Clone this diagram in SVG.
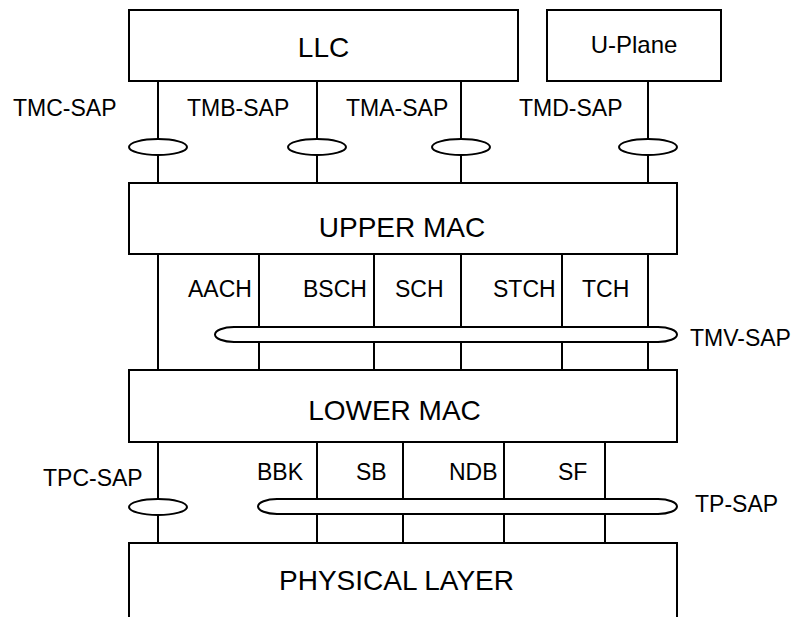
<svg xmlns="http://www.w3.org/2000/svg" width="796" height="617" viewBox="0 0 796 617">
<style>
.box{fill:#fff;stroke:#000;stroke-width:2}
.ln{stroke:#000;stroke-width:2;fill:none}
.sap{fill:#fff;stroke:#000;stroke-width:2}
.big{font-family:"Liberation Sans",Arial,sans-serif;font-size:28px;fill:#000}
.mid{font-family:"Liberation Sans",Arial,sans-serif;font-size:24px;fill:#000}
.sm{font-family:"Liberation Sans",Arial,sans-serif;font-size:23px;fill:#000}
</style>
<rect width="796" height="617" fill="#fff"/>
<g id="connectors">
<path class="ln" d="M158 81V183M317 81V183M461 81V183M648 81V183"/>
<path class="ln" d="M158 254V370M259 254V370M374 254V370M461 254V370M562 254V370M648 254V370"/>
<path class="ln" d="M158 442V543M317 442V543M403 442V543M504 442V543M605 442V543"/>
</g>
<g id="llc"><rect class="box" x="129" y="10" width="389" height="71"/><text class="big" x="323.5" y="57" text-anchor="middle">LLC</text></g>
<g id="uplane"><rect class="box" x="547" y="10" width="174" height="71"/><text class="mid" x="634" y="53" text-anchor="middle">U-Plane</text></g>
<g id="upper-mac"><rect class="box" x="129" y="183" width="548" height="71"/><text class="big" x="402" y="237" text-anchor="middle">UPPER MAC</text></g>
<g id="lower-mac"><rect class="box" x="129" y="370" width="548" height="72"/><text class="big" x="394.5" y="420" text-anchor="middle">LOWER MAC</text></g>
<g id="physical-layer"><rect class="box" x="129" y="543" width="548" height="90"/><text class="big" x="396.5" y="590" text-anchor="middle">PHYSICAL LAYER</text></g>
<g id="tmc-sap"><ellipse class="sap" cx="158" cy="147" rx="29" ry="8"/><text class="sm" x="13" y="116">TMC-SAP</text></g>
<g id="tmb-sap"><ellipse class="sap" cx="317" cy="147" rx="29" ry="8"/><text class="sm" x="187" y="116">TMB-SAP</text></g>
<g id="tma-sap"><ellipse class="sap" cx="461" cy="147" rx="29" ry="8"/><text class="sm" x="346" y="116">TMA-SAP</text></g>
<g id="tmd-sap"><ellipse class="sap" cx="648" cy="147" rx="29" ry="8"/><text class="sm" x="519" y="116">TMD-SAP</text></g>
<g id="tmv-sap"><path class="sap" d="M234 327H658A19 7.5 0 0 1 658 342H234A19 7.5 0 0 1 234 327Z"/><text class="sm" x="690" y="346">TMV-SAP</text></g>
<g id="channels">
<text class="sm" x="188" y="297">AACH</text>
<text class="sm" x="303" y="297">BSCH</text>
<text class="sm" x="395" y="297">SCH</text>
<text class="sm" x="493" y="297">STCH</text>
<text class="sm" x="582" y="297">TCH</text>
</g>
<g id="tpc-sap"><ellipse class="sap" cx="158" cy="507" rx="29" ry="8"/><text class="sm" x="43" y="486">TPC-SAP</text></g>
<g id="tp-sap"><path class="sap" d="M277 499H658A19 7.5 0 0 1 658 514H277A19 7.5 0 0 1 277 499Z"/><text class="sm" x="695" y="512">TP-SAP</text></g>
<g id="bursts">
<text class="sm" x="257" y="480">BBK</text>
<text class="sm" x="356" y="480">SB</text>
<text class="sm" x="449" y="480">NDB</text>
<text class="sm" x="558" y="480">SF</text>
</g>
</svg>
